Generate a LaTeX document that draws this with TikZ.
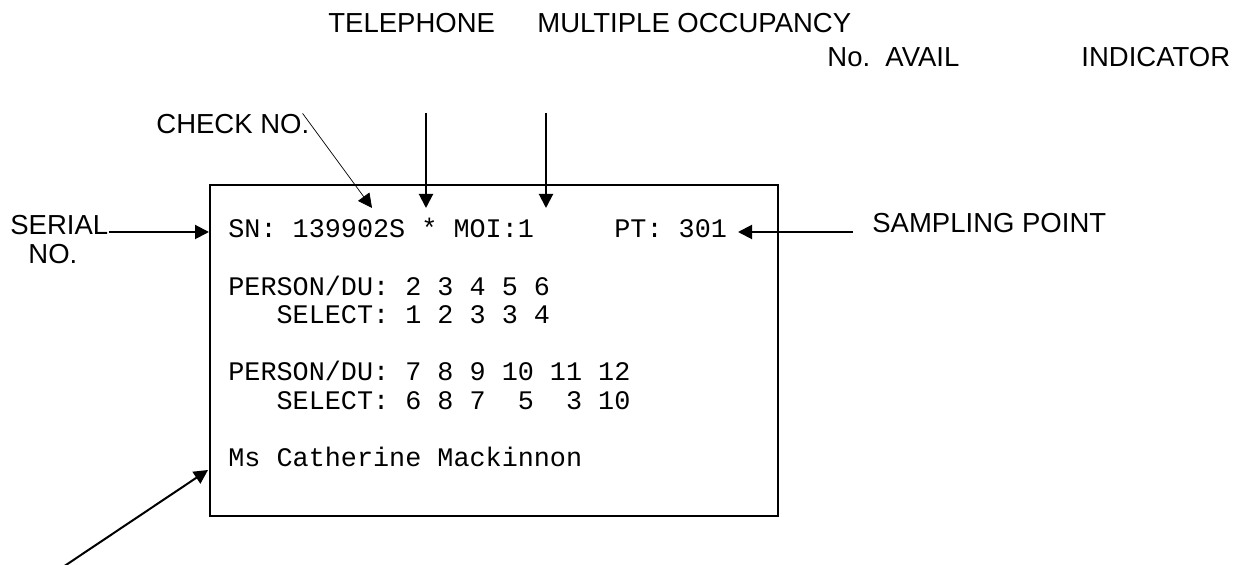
\documentclass[tikz,border=0pt]{standalone}
\usepackage{fontspec}
\setmainfont{Liberation Sans}
\newfontfamily\monofnt{Liberation Mono}
\usetikzlibrary{arrows.meta}

\tikzset{
  lbl/.style={anchor=base west, inner sep=0pt, font=\fontsize{13.75}{16}\selectfont},
  scr/.style={anchor=base west, inner sep=0pt, font=\monofnt\fontsize{13.4}{16}\selectfont},
  arr/.style={-{Triangle[length=7pt,width=7pt]}, line width=1pt},
}

\begin{document}
\begin{tikzpicture}[x=0.5pt, y=-0.5pt]
    \useasboundingbox (0,0) rectangle (1249,565);

    % Screen frame
    \node[draw, line width=1pt, inner sep=0pt, anchor=north west,
          minimum width=284pt, minimum height=165.5pt] (screen) at (209,184) {};

    % Screen contents
    \node[scr] (snline)  at (228,238)   {SN:~139902S~*~MOI:1~~~~~PT:~301};
    \node[scr] (persona) at (228,295.2) {PERSON/DU:~2~3~4~5~6};
    \node[scr] (selecta) at (228,323.8) {~~~SELECT:~1~2~3~3~4};
    \node[scr] (personb) at (228,381)   {PERSON/DU:~7~8~9~10~11~12};
    \node[scr] (selectb) at (228,409.6) {~~~SELECT:~6~8~7~~5~~3~10};
    \node[scr] (resp)    at (228,466.8) {Ms~Catherine~Mackinnon};

    % Labels
    \node[lbl] (tel)    at (328,33)  {TELEPHONE};
    \node[lbl] (moi)    at (537,33)  {MULTIPLE OCCUPANCY};
    \node[lbl] (avail)  at (827,67)  {No.~~AVAIL};
    \node[lbl] (ind)    at (1081,67) {INDICATOR};
    \node[lbl] (check)  at (156,134) {CHECK NO.};
    \node[lbl] (serial) at (10,235)  {SERIAL};
    \node[lbl] (serno)  at (28,264)  {NO.};
    \node[lbl] (samp)   at (872,233) {SAMPLING POINT};

    % Free ends of the pointers
    \coordinate (teltop)  at (426,113);
    \coordinate (teltip)  at (426,208);
    \coordinate (moitop)  at (546,113);
    \coordinate (moitip)  at (546,208);
    \coordinate (chktip)  at (372,208);
    \coordinate (pttip)   at (738,232);
    \coordinate (namefoot) at (63,567);
    \coordinate (nametip) at (208,470);

    % Pointers
    \draw[arr] ([yshift=1.5pt]serial.base east) -- ([yshift=1.5pt]serial.base east -| screen.west);
    \draw[arr] (teltop) -- (teltip);
    \draw[arr] (moitop) -- (moitip);
    \draw[arr, line width=0.35pt] ([xshift=-3.5pt,yshift=0.5pt]check.north east) -- (chktip);
    \draw[arr] ([xshift=-9.5pt,yshift=0.5pt]samp.base west) -- (pttip);
    \draw[arr] (namefoot) -- (nametip);
\end{tikzpicture}
\end{document}
